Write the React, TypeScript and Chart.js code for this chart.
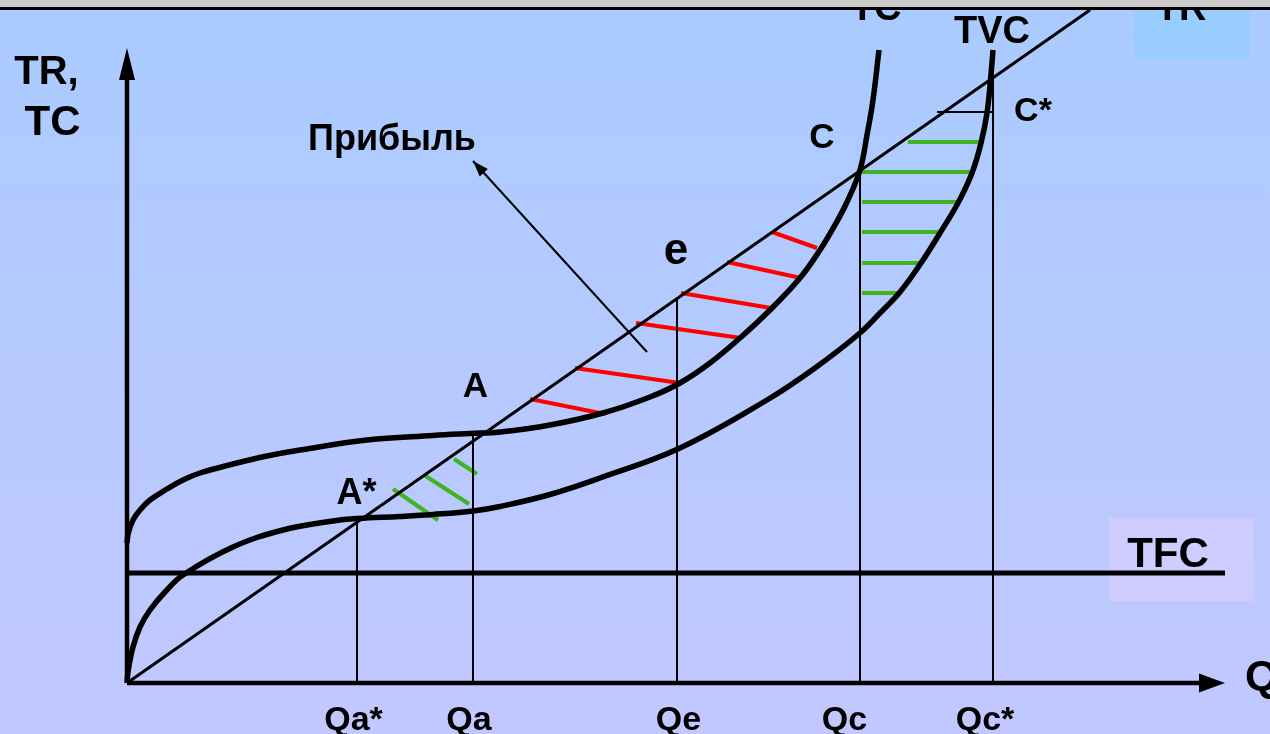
import React, { useEffect, useRef } from "react";
import { Chart, registerables } from "chart.js";

Chart.register(...registerables);

type P = [number, number];

// Quantity (x) / money (y) values
const trLine: P[] = [[0, 0], [96.3, 67.3]];
const tcCurve: P[] = [
  [0, 14.0], [0.13, 15.0], [0.6, 16.3], [1.3, 17.3], [2.3, 18.3], [4.0, 19.4], [5.6, 20.3],
  [7.3, 21.0], [10.6, 21.9], [14.0, 22.7], [17.3, 23.3], [24.0, 24.3], [30.6, 24.75],
  [34.3, 24.95], [37.3, 25.1], [42.3, 25.8], [47.6, 27.0], [52.3, 28.6], [55.3, 30.0],
  [58.3, 32.0], [61.3, 34.5], [64.3, 37.3], [67.3, 40.5], [69.3, 43.3], [70.8, 45.8],
  [72.0, 48.1], [73.3, 51.3], [74.0, 54.8], [74.6, 58.3], [75.2, 63.3],
];
const tvcCurve: P[] = [
  [0, 0], [0.13, 1.3], [0.6, 3.6], [1.3, 5.6], [2.3, 7.3], [3.8, 9.1], [5.6, 10.8],
  [10.6, 13.6], [15.6, 15.3], [20.6, 16.2], [23.1, 16.45], [27.3, 16.65], [30.6, 16.85],
  [34.6, 17.2], [37.3, 17.65], [42.3, 18.85], [47.3, 20.5], [55.3, 23.5], [64.0, 28.3],
  [68.8, 31.5], [73.3, 35.0], [75.3, 37.0], [77.3, 39.1], [79.4, 42.0], [81.3, 45.0],
  [83.1, 48.0], [84.5, 51.0], [85.4, 54.0], [86.0, 57.0], [86.35, 60.3], [86.6, 63.3],
];
const tfcLine: P[] = [[0, 11.0], [109.8, 11.0]];
const yAxisLine: P[] = [[0, 0], [0, 60.5]];
const xAxisLine: P[] = [[0, 0], [107.4, 0]];
const dropLines: P[][] = [
  [[23.0, 0], [23.0, 16.5]],
  [[34.6, 0], [34.6, 24.9]],
  [[55.0, 0], [55.0, 38.6]],
  [[73.3, 0], [73.3, 51.3]],
  [[86.6, 0], [86.6, 63.3]],
  [[81.0, 57.1], [86.6, 57.1]],
];
const profitHatch: P[][] = [
  [[40.3, 28.4], [47.8, 26.9]],
  [[44.8, 31.5], [55.3, 30.0]],
  [[50.9, 36.0], [61.4, 34.5]],
  [[55.4, 39.0], [64.4, 37.5]],
  [[60.0, 42.1], [67.4, 40.5]],
  [[64.5, 45.1], [69.0, 43.5]],
];
const lossHatchLow: P[][] = [
  [[26.6, 19.4], [31.1, 16.3]],
  [[29.7, 20.8], [34.2, 17.9]],
  [[32.7, 22.4], [35.0, 20.9]],
];
const lossHatchHigh: P[][] = [
  [[78.1, 54.1], [85.4, 54.1]],
  [[73.5, 51.1], [84.5, 51.1]],
  [[73.5, 48.1], [83.1, 48.1]],
  [[73.5, 45.1], [81.3, 45.1]],
  [[73.5, 42.0], [79.4, 42.0]],
  [[73.5, 39.0], [77.3, 39.0]],
];
const pointerLine: P[] = [[52.0, 33.1], [34.6, 52.2]];

type Label = { text: string; x: number; y: number; size: number; align: CanvasTextAlign };
const labels: Label[] = [
  { text: "TR,", x: -8.05, y: 59.9, size: 40, align: "center" },
  { text: "TC", x: -7.45, y: 54.8, size: 42, align: "center" },
  { text: "Прибыль", x: 26.5, y: 53.3, size: 36, align: "center" },
  { text: "C", x: 69.5, y: 53.5, size: 35, align: "center" },
  { text: "C*", x: 90.6, y: 56.2, size: 34, align: "center" },
  { text: "TVC", x: 86.5, y: 64.0, size: 38, align: "center" },
  { text: "TC", x: 74.9, y: 66.3, size: 38, align: "center" },
  { text: "TR", x: 105.4, y: 66.3, size: 38, align: "center" },
  { text: "e", x: 54.9, y: 41.9, size: 44, align: "center" },
  { text: "A", x: 34.85, y: 28.6, size: 35, align: "center" },
  { text: "A*", x: 22.95, y: 17.9, size: 36, align: "center" },
  { text: "Qa*", x: 22.65, y: -4.7, size: 34, align: "center" },
  { text: "Qa", x: 34.2, y: -4.7, size: 34, align: "center" },
  { text: "Qe", x: 55.15, y: -4.7, size: 34, align: "center" },
  { text: "Qc", x: 71.75, y: -4.7, size: 34, align: "center" },
  { text: "Qc*", x: 85.8, y: -4.7, size: 34, align: "center" },
  { text: "TFC", x: 104.1, y: 11.6, size: 42, align: "center" },
  { text: "Q", x: 111.8, y: -0.7, size: 43, align: "left" },
];

type Arrow = { tip: P; from: P; len: number; half: number };
const arrows: Arrow[] = [
  { tip: [0, 63.5], from: [0, 0], len: 32, half: 8 },
  { tip: [109.8, 0], from: [0, 0], len: 26, half: 9.5 },
  { tip: [34.6, 52.2], from: [52.0, 33.1], len: 16, half: 5.5 },
];

type Box = { x0: number; y0: number; x1: number; y1: number; color: string };
const boxes: Box[] = [
  { x0: 100.7, y0: 68.3, x1: 112.3, y1: 62.4, color: "#99ccff" },
  { x0: 98.2, y0: 16.5, x1: 112.7, y1: 8.2, color: "#cfccff" },
];

const FONT = '"Liberation Sans", Arial, Helvetica, sans-serif';

const seg = (pts: P[], color: string, width: number, curve = false) => ({
  data: pts.map(([x, y]) => ({ x, y })),
  showLine: true,
  borderColor: color,
  backgroundColor: color,
  borderWidth: width,
  pointRadius: 0,
  pointHoverRadius: 0,
  cubicInterpolationMode: "default",
  tension: curve ? 0.4 : 0,
  fill: false,
  clip: false,
  borderCapStyle: "butt",
  borderJoinStyle: "round",
});

export default function App() {
  const ref = useRef<HTMLCanvasElement | null>(null);

  useEffect(() => {
    const canvas = ref.current;
    if (!canvas) return;

    const background = {
      id: "background",
      beforeDraw(chart: any) {
        const { ctx, width, height, scales } = chart;
        const sx = scales.x, sy = scales.y;
        ctx.save();
        const g = ctx.createLinearGradient(0, 10, 0, height);
        g.addColorStop(0, "#aacbff");
        g.addColorStop(1, "#c2c8ff");
        ctx.fillStyle = g;
        ctx.fillRect(0, 0, width, height);
        for (const b of boxes) {
          const x0 = sx.getPixelForValue(b.x0), x1 = sx.getPixelForValue(b.x1);
          const y0 = sy.getPixelForValue(b.y0), y1 = sy.getPixelForValue(b.y1);
          ctx.fillStyle = b.color;
          ctx.fillRect(x0, y0, x1 - x0, y1 - y0);
        }
        ctx.restore();
      },
    };

    const overlay = {
      id: "overlay",
      afterDatasetsDraw(chart: any) {
        const { ctx, width, scales } = chart;
        const sx = scales.x, sy = scales.y;
        ctx.save();
        ctx.fillStyle = "#000";
        for (const a of arrows) {
          const tx = sx.getPixelForValue(a.tip[0]), ty = sy.getPixelForValue(a.tip[1]);
          const fx = sx.getPixelForValue(a.from[0]), fy = sy.getPixelForValue(a.from[1]);
          const d = Math.hypot(tx - fx, ty - fy);
          const ux = (tx - fx) / d, uy = (ty - fy) / d;
          const bx = tx - ux * a.len, by = ty - uy * a.len;
          ctx.beginPath();
          ctx.moveTo(tx, ty);
          ctx.lineTo(bx - uy * a.half, by + ux * a.half);
          ctx.lineTo(bx + uy * a.half, by - ux * a.half);
          ctx.closePath();
          ctx.fill();
        }
        ctx.textBaseline = "alphabetic";
        for (const l of labels) {
          ctx.font = `bold ${l.size}px ${FONT}`;
          ctx.textAlign = l.align;
          ctx.fillText(l.text, sx.getPixelForValue(l.x), sy.getPixelForValue(l.y));
        }
        ctx.fillStyle = "#cccccc";
        ctx.fillRect(0, 0, width, 8);
        ctx.fillStyle = "#000";
        ctx.fillRect(0, 7, width, 3);
        ctx.restore();
      },
    };

    const datasets: any[] = [
      seg(trLine, "#000", 3),
      seg(tcCurve, "#000", 5.5, true),
      seg(tvcCurve, "#000", 5.5, true),
      seg(tfcLine, "#000", 5),
      seg(yAxisLine, "#000", 4.5),
      seg(xAxisLine, "#000", 4.5),
      seg(pointerLine, "#000", 2),
      ...dropLines.map((s) => seg(s, "#000", 2)),
      ...profitHatch.map((s) => seg(s, "#ff0000", 4)),
      ...lossHatchLow.map((s) => seg(s, "#40b420", 4)),
      ...lossHatchHigh.map((s) => seg(s, "#40b420", 4)),
    ];

    const chart = new Chart(canvas, {
      type: "scatter",
      data: { datasets },
      options: {
        animation: false,
        responsive: false,
        devicePixelRatio: window.devicePixelRatio || 1,
        layout: { padding: 0 },
        plugins: { legend: { display: false }, tooltip: { enabled: false } },
        events: [],
        scales: {
          x: { type: "linear", min: -12.7, max: 114.3, display: false },
          y: { type: "linear", min: -5.1, max: 68.3, display: false },
        },
      } as any,
      plugins: [background, overlay],
    });
    return () => chart.destroy();
  }, []);

  return (
    <div style={{ position: "fixed", left: 0, top: 0, width: 1270, height: 734, overflow: "hidden" }}>
      <canvas ref={ref} width={1270} height={734} style={{ display: "block", width: 1270, height: 734 }} />
    </div>
  );
}
